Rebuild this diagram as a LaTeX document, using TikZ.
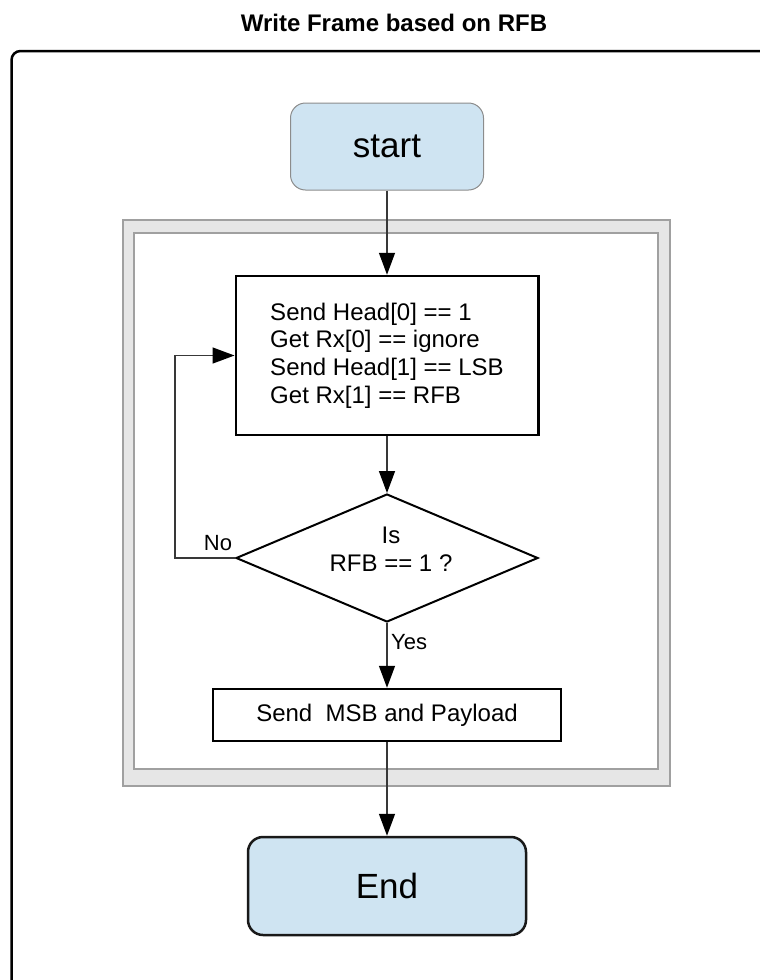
\documentclass[tikz,border=0pt]{standalone}
\usepackage{fontspec}
\setmainfont{Liberation Sans}
\usetikzlibrary{arrows.meta,shapes.geometric}
\definecolor{termfill}{HTML}{CFE4F2}
\definecolor{termline}{HTML}{8C8C8C}
\definecolor{bandfill}{HTML}{E6E6E6}
\definecolor{bandline}{HTML}{A0A0A0}
\definecolor{linkcol}{HTML}{383838}
\begin{document}
\begin{tikzpicture}[x=1pt,y=-1pt,
  bodytext/.style={font=\fontsize{24}{27.6}\selectfont},
  bigtext/.style={font=\fontsize{35}{40}\selectfont},
  labeltext/.style={font=\fontsize{22}{26}\selectfont, inner sep=0pt},
  termbox/.style={rectangle, rounded corners=15pt, fill=termfill, bigtext, inner sep=0pt},
  procbox/.style={rectangle, draw=black, line width=2.5pt, fill=white, bodytext, inner sep=0pt},
  decision/.style={diamond, draw=black, line width=2pt, fill=white, inner sep=0pt},
  link/.style={draw=linkcol, line width=1.5pt, -{Triangle[length=22pt,width=16pt,color=black]}},
  plainlink/.style={draw=linkcol, line width=1.5pt}
]
\useasboundingbox (0,0) rectangle (760,980);
\clip (0,0) rectangle (760,980);

% title
\node[font=\bfseries\fontsize{24}{28}\selectfont] (title) at (394,23) {Write Frame based on RFB};

% outer frame (cut by the page on right and bottom)
\draw[line width=2.5pt, rounded corners=9pt] (11.5,1010) -- (11.5,51) -- (800,51);

% grey band
\filldraw[fill=bandfill, draw=bandline, line width=1.5pt] (123,220) rectangle (670,786);
\filldraw[fill=white, draw=bandline, line width=1.5pt] (134,233) rectangle (658,769);

% nodes
\node[termbox, draw=termline, line width=1pt, minimum width=193pt, minimum height=87pt] (start) at (387,146.5) {start};
\node[procbox, minimum width=302.5pt, minimum height=159pt, align=left] (proc) at (387,355.5)
  {Send Head[0] == 1\\Get Rx[0] == ignore\\Send Head[1] == LSB\\Get Rx[1] == RFB};
\node[decision, minimum width=302pt, minimum height=128pt] (dia) at (387,558) {};
\node[bodytext, align=center, inner sep=0pt] (diatext) at (391,549.5) {Is\\RFB == 1 ?};
\node[procbox, minimum width=348pt, minimum height=52pt] (send) at (387,715) {Send\ \ MSB and Payload};
\node[termbox, draw=black!90, line width=2.5pt, minimum width=278pt, minimum height=98pt] (end) at (387,886) {End};

% connectors
\coordinate (loopc) at (175,558);
\draw[link] (start.south) -- (proc.north);
\draw[link] (proc.south) -- (dia.north);
\draw[link] (dia.west) -- (loopc) |- (proc.west);
\draw[link] (dia.south) -- (send.north);
\draw[link] (send.south) -- (end.north);

% labels
\node[labeltext] (nolabel) at (218,543) {No};
\node[labeltext, anchor=west] (yeslabel) at (391,642) {Yes};
\end{tikzpicture}
\end{document}
